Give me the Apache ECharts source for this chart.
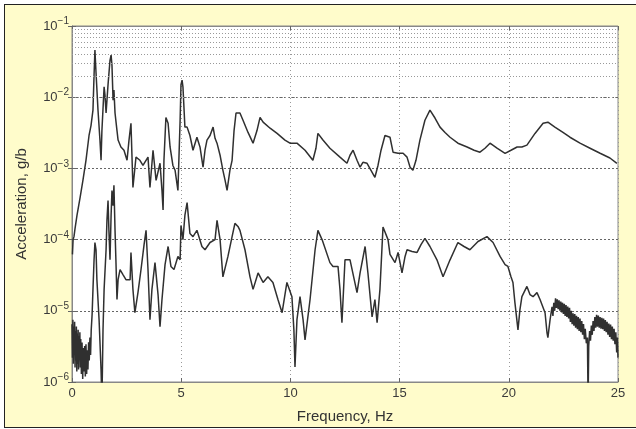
<!DOCTYPE html>
<html><head><meta charset="utf-8">
<script src="https://cdn.jsdelivr.net/npm/echarts@6/dist/echarts.min.js"></script>
<style>
html,body{margin:0;padding:0;width:636px;height:429px;background:#fff;overflow:hidden}
#frame{position:absolute;left:4px;top:4px;width:640px;height:424px;border:1px solid #222;background:#FFFCCB;box-sizing:border-box}
#chart{position:absolute;left:0;top:0;width:636px;height:429px}
</style></head><body>
<div id="frame"></div><div id="chart"></div>
<script>
const xTicks = [0, 5, 10, 15, 20, 25];
const yDecades = [1e-6, 1e-5, 1e-4, 1e-3, 1e-2, 1e-1];
const yTickExponents = ['−6', '−5', '−4', '−3', '−2', '−1'];
const minorMultipliers = [2, 3, 4, 5, 6, 7, 8, 9];

// upper spectrum: [frequency Hz, acceleration]
const upperSpectrum = [
[0.02,6.2e-5],[0.05,1.0e-4],[0.09,1.1e-4],[0.14,1.44e-4],[0.23,2.2e-4],[0.37,3.9e-4],[0.50,6.8e-4],[0.64,1.3e-3],[0.78,2.9e-3],[0.87,4.0e-3],
[0.96,6.6e-3],[1.01,2.05e-2],[1.05,4.6e-2],[1.10,2.2e-2],[1.19,6.6e-3],[1.28,2.5e-3],[1.33,1.3e-3],[1.37,3.4e-3],[1.47,1.4e-2],[1.51,1.07e-2],
[1.56,6.0e-3],[1.65,1.5e-2],[1.74,3.3e-2],[1.79,3.9e-2],[1.83,2.8e-2],[1.88,9.1e-3],[1.92,1.26e-2],[1.97,6.0e-3],[2.06,3.4e-3],[2.11,2.5e-3],
[2.24,2.0e-3],[2.38,1.8e-3],[2.52,1.3e-3],[2.61,2.5e-3],[2.70,4.3e-3],[2.79,5.4e-4],[2.93,1.44e-3],[3.11,1.3e-3],[3.25,1.1e-3],[3.34,1.04e-3],
[3.48,1.44e-3],[3.57,5.4e-4],[3.71,1.8e-3],[3.85,6.8e-4],[4.03,1.18e-3],[4.12,4.9e-4],[4.17,2.6e-4],[4.21,1.3e-3],[4.30,5.2e-3],[4.40,4.3e-3],
[4.49,2.0e-3],[4.62,1.1e-3],[4.72,9.4e-4],[4.85,4.9e-4],[4.95,4.75e-3],[4.99,1.5e-2],[5.04,1.74e-2],[5.08,1.4e-2],[5.17,3.8e-3],[5.27,3.8e-3],
[5.40,2.9e-3],[5.54,1.8e-3],[5.72,2.74e-3],[5.86,2.0e-3],[6.00,1.04e-3],[6.09,1.8e-3],[6.18,2.5e-3],[6.32,2.9e-3],[6.46,3.8e-3],[6.55,2.65e-3],
[6.64,2.26e-3],[6.78,1.53e-3],[6.91,9.4e-4],[7.01,6.8e-4],[7.10,4.9e-4],[7.14,5.2e-4],[7.23,9.4e-4],[7.33,1.3e-3],[7.42,3.4e-3],[7.51,6.0e-3],
[7.69,6.0e-3],[7.83,4.75e-3],[8.06,3.2e-3],[8.29,2.26e-3],[8.47,3.4e-3],[8.61,5.2e-3],[8.75,4.46e-3],[9.07,3.67e-3],[9.39,3.1e-3],[9.75,2.5e-3],
[9.98,2.26e-3],[10.30,2.26e-3],[10.67,1.8e-3],[11.03,1.3e-3],[11.17,1.92e-3],[11.26,3.1e-3],[11.49,2.5e-3],[11.81,1.92e-3],[12.27,1.44e-3],[12.59,1.18e-3],
[12.73,1.53e-3],[12.87,1.8e-3],[13.05,1.3e-3],[13.19,1.04e-3],[13.32,1.22e-3],[13.51,1.18e-3],[13.69,9.4e-4],[13.87,7.5e-4],[14.01,1.1e-3],[14.15,1.8e-3],
[14.33,2.9e-3],[14.56,2.74e-3],[14.70,1.69e-3],[14.93,1.63e-3],[15.16,1.63e-3],[15.34,1.44e-3],[15.48,1.04e-3],[15.61,9.4e-4],[15.75,1.3e-3],[15.93,2.5e-3],
[16.16,4.75e-3],[16.39,6.6e-3],[16.62,5.1e-3],[16.85,3.8e-3],[17.08,3.2e-3],[17.31,2.74e-3],[17.67,2.26e-3],[18.09,2.0e-3],[18.41,1.8e-3],[18.68,1.69e-3],
[18.91,1.92e-3],[19.14,2.26e-3],[19.46,1.92e-3],[19.83,1.63e-3],[20.10,1.8e-3],[20.38,2.0e-3],[20.60,2.0e-3],[20.83,2.12e-3],[21.20,3.1e-3],[21.57,4.3e-3],
[21.79,4.46e-3],[22.11,3.8e-3],[22.48,3.2e-3],[22.80,2.74e-3],[23.26,2.26e-3],[23.72,1.92e-3],[24.18,1.63e-3],[24.63,1.4e-3],[24.95,1.18e-3]
];

// lower spectrum: [frequency Hz, acceleration]
const lowerSpectrum = [
[0.00,6.5e-6],[0.02,2.2e-6],[0.04,7.5e-6],[0.06,1.8e-6],[0.08,6.0e-6],[0.10,2.5e-6],[0.12,7.0e-6],[0.14,1.6e-6],[0.16,5.2e-6],[0.18,2.0e-6],
[0.20,6.0e-6],[0.22,1.4e-6],[0.24,4.8e-6],[0.26,1.8e-6],[0.28,5.4e-6],[0.30,1.5e-6],[0.32,4.4e-6],[0.34,2.2e-6],[0.36,5.0e-6],[0.38,1.6e-6],
[0.40,4.0e-6],[0.43,1.3e-6],[0.46,3.6e-6],[0.49,1.1e-6],[0.52,3.0e-6],[0.55,1.4e-6],[0.58,3.2e-6],[0.61,1.2e-6],[0.64,3.4e-6],[0.67,1.3e-6],
[0.70,2.8e-6],[0.73,1.5e-6],[0.76,3.6e-6],[0.79,2.0e-6],[0.82,4.2e-6],[0.85,2.4e-6],[0.88,5.4e-6],
[0.92,8.8e-6],[0.96,2.0e-5],[1.01,5.2e-5],[1.05,9.1e-5],[1.10,7.2e-5],[1.14,2.74e-5],[1.24,7.5e-6],[1.33,1.5e-6],[1.37,5e-7],[1.42,5.4e-6],
[1.47,2.0e-5],[1.56,7.2e-5],[1.60,1.86e-4],[1.65,3.55e-4],[1.69,1.35e-4],[1.74,5.2e-5],[1.79,2.2e-4],[1.83,4.9e-4],[1.88,3.0e-4],[1.92,5.8e-4],
[1.97,1.35e-4],[2.01,5.2e-5],[2.06,1.44e-5],[2.11,2.74e-5],[2.20,3.8e-5],[2.34,3.2e-5],[2.47,2.74e-5],[2.66,2.74e-5],[2.70,6.6e-5],[2.79,2.0e-5],
[2.88,9.4e-6],[3.02,1.8e-5],[3.16,3.8e-5],[3.30,8.5e-5],[3.39,1.35e-4],[3.48,3.8e-5],[3.57,7.5e-6],[3.66,2.0e-5],[3.80,4.75e-5],[3.94,1.69e-5],
[4.03,6.0e-6],[4.12,1.44e-5],[4.26,4.46e-5],[4.40,8.0e-5],[4.53,4.2e-5],[4.67,3.8e-5],[4.85,5.8e-5],[4.95,5.2e-5],[4.99,1.58e-4],[5.08,1.0e-4],
[5.17,2.2e-4],[5.27,3.3e-4],[5.40,1.22e-4],[5.54,1.1e-4],[5.72,1.35e-4],[5.95,8.0e-5],[6.09,7.2e-5],[6.32,9.1e-5],[6.55,1.0e-4],[6.64,1.86e-4],
[6.78,1.0e-4],[6.91,3.0e-5],[7.14,5.8e-5],[7.33,1.1e-4],[7.46,1.69e-4],[7.60,1.53e-4],[7.69,1.35e-4],[7.92,7.2e-5],[8.15,3.0e-5],[8.29,2.0e-5],
[8.52,3.4e-5],[8.75,2.5e-5],[8.97,3.0e-5],[9.20,2.5e-5],[9.43,1.44e-5],[9.62,9.4e-6],[9.84,2.5e-5],[10.07,1.58e-5],[10.16,5.4e-6],[10.21,1.63e-6],
[10.30,7.5e-6],[10.44,1.58e-5],[10.58,7.5e-6],[10.67,3.9e-6],[10.90,1.44e-5],[11.13,7.2e-5],[11.26,1.35e-4],[11.45,1.0e-4],[11.81,4.75e-5],[11.95,4.2e-5],
[12.18,4.2e-5],[12.27,2.0e-5],[12.36,6.8e-6],[12.50,5.2e-5],[12.73,5.2e-5],[13.05,1.8e-5],[13.19,3.4e-5],[13.42,8.0e-5],[13.55,3.4e-5],[13.74,8.2e-6],
[13.87,1.44e-5],[13.97,6.8e-6],[14.10,2.0e-5],[14.24,1.5e-4],[14.47,1.0e-4],[14.56,6.2e-5],[14.65,6.6e-5],[14.79,4.75e-5],[14.93,6.6e-5],[15.11,3.4e-5],
[15.25,5.8e-5],[15.34,7.2e-5],[15.57,6.8e-5],[15.80,6.6e-5],[15.98,8.5e-5],[16.16,1.04e-4],[16.39,8.0e-5],[16.71,5.2e-5],[16.99,3.0e-5],[17.31,5.2e-5],
[17.67,9.1e-5],[17.95,8.0e-5],[18.22,7.2e-5],[18.59,9.4e-5],[19.00,1.1e-4],[19.28,9.1e-5],[19.60,5.8e-5],[19.83,4.46e-5],[19.96,4.2e-5],[20.10,3.0e-5],
[20.19,2.5e-5],[20.28,1.3e-5],[20.42,5.4e-6],[20.51,1.04e-5],[20.60,1.58e-5],[20.83,2.2e-5],[20.97,1.69e-5],[21.11,1.58e-5],[21.29,1.8e-5],[21.43,1.44e-5],
[21.66,9.4e-6],[21.75,4.9e-6],[21.79,4.2e-6],[21.89,7.5e-6],[21.98,1.14e-5],
[22.02,8.5e-6],[22.06,1.3e-5],[22.10,1.0e-5],[22.14,1.5e-5],[22.18,1.1e-5],[22.22,1.45e-5],[22.26,1.05e-5],[22.30,1.4e-5],[22.34,1.0e-5],[22.38,1.35e-5],
[22.42,9.5e-6],[22.46,1.3e-5],[22.50,9.0e-6],[22.54,1.25e-5],[22.58,8.5e-6],[22.62,1.2e-5],[22.66,8.2e-6],[22.70,1.15e-5],[22.74,7.8e-6],[22.78,1.1e-5],
[22.82,7.0e-6],[22.86,1.0e-5],[22.90,6.5e-6],[22.94,9.2e-6],[22.98,6.2e-6],[23.02,9.0e-6],[23.06,5.8e-6],[23.10,8.5e-6],[23.14,5.5e-6],[23.18,8.2e-6],
[23.22,5.2e-6],[23.26,7.8e-6],[23.30,5.0e-6],[23.34,7.2e-6],[23.38,4.6e-6],[23.42,6.5e-6],[23.46,4.0e-6],[23.50,5.6e-6],[23.55,3.5e-6],[23.60,4.2e-6],
[23.63,5e-7],[23.66,3.2e-6],[23.70,5.2e-6],[23.74,3.8e-6],[23.78,6.2e-6],[23.82,4.6e-6],[23.86,7.2e-6],[23.90,5.2e-6],[23.94,8.2e-6],[23.98,5.8e-6],
[24.02,8.8e-6],[24.06,6.0e-6],[24.10,8.6e-6],[24.14,5.8e-6],[24.18,8.2e-6],[24.22,5.6e-6],[24.26,8.0e-6],[24.30,5.5e-6],[24.34,7.8e-6],[24.38,5.2e-6],
[24.42,7.4e-6],[24.46,5.0e-6],[24.50,7.0e-6],[24.54,4.6e-6],[24.58,6.6e-6],[24.62,4.3e-6],[24.66,6.4e-6],[24.70,4.0e-6],[24.74,6.0e-6],[24.78,3.8e-6],
[24.82,5.6e-6],[24.86,3.4e-6],[24.90,5.0e-6],[24.94,2.6e-6],[24.97,4.2e-6],[25.00,2.2e-6]
];

const FONT = '"Liberation Sans", Arial, sans-serif';
const minorLines = [];
yDecades.slice(0, -1).forEach(d => minorMultipliers.forEach(m => minorLines.push({ yAxis: d * m })));

const chart = echarts.init(document.getElementById('chart'), null, { renderer: 'canvas' });
chart.setOption({
  animation: false,
  backgroundColor: 'transparent',
  grid: { left: 72, right: 18, top: 26, bottom: 47, show: true, backgroundColor: '#fff', borderColor: '#888', borderWidth: 1 },
  xAxis: [{
    type: 'value', min: xTicks[0], max: xTicks[xTicks.length - 1], interval: 5, position: 'bottom',
    axisLine: { show: true, lineStyle: { color: '#888' } },
    axisTick: { show: true, inside: true, length: 4, lineStyle: { color: '#666' } },
    axisLabel: { color: '#3a3a3a', fontSize: 13, margin: 5, fontFamily: FONT },
    splitLine: { show: true, lineStyle: { type: [1, 3], color: '#999' } },
    name: 'Frequency, Hz', nameLocation: 'middle', nameGap: 27,
    nameTextStyle: { color: '#333', fontSize: 15, fontFamily: FONT }
  }, {
    type: 'value', min: xTicks[0], max: xTicks[xTicks.length - 1], interval: 5, position: 'top',
    axisLine: { show: true, lineStyle: { color: '#888' } },
    axisTick: { show: true, inside: true, length: 4, lineStyle: { color: '#666' } },
    axisLabel: { show: false }, splitLine: { show: false }
  }],
  yAxis: [{
    type: 'log', logBase: 10, min: yDecades[0], max: yDecades[yDecades.length - 1],
    axisLine: { show: true, lineStyle: { color: '#888' } },
    axisTick: { show: true, inside: true, length: 4, lineStyle: { color: '#666' } },
    axisLabel: {
      margin: 3, fontFamily: FONT,
      formatter: v => {
        const e = Math.round(Math.log10(v));
        const i = yDecades.findIndex(d => Math.round(Math.log10(d)) === e);
        return '{b|10}{s|' + yTickExponents[i] + '}';
      },
      rich: {
        b: { fontSize: 13, color: '#3a3a3a', fontFamily: FONT },
        s: { fontSize: 10, color: '#3a3a3a', fontFamily: FONT, padding: [0, 0, 9, 0] }
      }
    },
    splitLine: { show: true, lineStyle: { type: [2, 2], color: '#666' } },
    name: 'Acceleration, g/b', nameLocation: 'middle', nameGap: 43,
    nameTextStyle: { color: '#333', fontSize: 15, fontFamily: FONT }
  }, {
    type: 'log', logBase: 10, min: yDecades[0], max: yDecades[yDecades.length - 1], position: 'right',
    axisLine: { show: true, lineStyle: { color: '#888' } },
    axisTick: { show: true, inside: true, length: 4, lineStyle: { color: '#666' } },
    axisLabel: { show: false }, splitLine: { show: false }
  }],
  series: [{
    type: 'line', data: [], z: 1, silent: true, symbol: 'none',
    markLine: {
      silent: true, symbol: ['none', 'none'], label: { show: false },
      lineStyle: { type: [1, 2], color: '#999', width: 1 },
      emphasis: { disabled: true },
      data: minorLines
    }
  }, {
    name: 'upper', type: 'line', data: upperSpectrum, showSymbol: false, symbol: 'none', z: 3,
    lineStyle: { color: '#303030', width: 1.5 }, clip: true
  }, {
    name: 'lower', type: 'line', data: lowerSpectrum, showSymbol: false, symbol: 'none', z: 3,
    lineStyle: { color: '#303030', width: 1.5 }, clip: true
  }]
});
</script>
</body></html>
